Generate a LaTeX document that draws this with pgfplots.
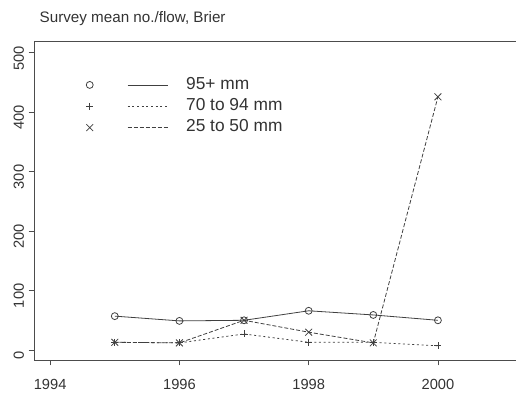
\documentclass[border=0pt]{standalone}
\usepackage{pgfplots}
\pgfplotsset{compat=1.18}
\usepackage{fontspec}
\setmainfont{Liberation Sans}
\usetikzlibrary{calc}
\begin{document}
\begin{tikzpicture}
\begin{axis}[
  scale only axis, width=364.5pt, height=239.25pt,
  xmin=1993.75, xmax=2001.27, ymin=-16.8, ymax=520,
  xtick={1994,1996,1998,2000}, ytick={0,100,200,300,400,500},
  tick align=outside, tick pos=left, major tick length=4pt,
  /pgf/number format/assume math mode=true,
  xticklabel style={/pgf/number format/1000 sep={}, yshift=-7pt},
  yticklabel style={rotate=90, anchor=south, xshift=-4pt},
  tick label style={font=\fontsize{11}{13}\selectfont, text=black!80},
  axis line style={black!70, line width=0.7pt}, tick style={black!70, line width=0.6pt},
  title={Survey mean no./flow, Brier},
  title style={at={(0,1)}, anchor=base west, yshift=8pt, xshift=0.75pt, font=\fontsize{11.4}{13}\selectfont, text=black!80},
  legend style={at={(rel axis cs:0,1)}, anchor=north west, xshift=36pt, yshift=-24pt,
    draw=none, fill=none, font=\fontsize{13}{15}\selectfont, text=black!80,
    nodes={text height=9.5pt, text depth=3pt, inner sep=0.5pt}, row sep=2.5pt,
    /tikz/every odd column/.append style={column sep=13pt}},
  legend cell align=left,
  legend image code/.code={
    \draw[#1] plot coordinates {(0pt,0pt)};
    \draw[#1, mark=none] (28.5pt,0pt) -- (58.5pt,0pt);
  },
  every axis plot/.append style={black!75, line width=0.6pt, mark size=2.6pt, mark options={solid}},
]
\addplot[mark=o] coordinates {(1995,57)(1996,49)(1997,50)(1998,66)(1999,59)(2000,50)};
\addlegendentry{95+ mm}
\addplot[mark=+, dash pattern=on 1.5pt off 2pt] coordinates {(1995,13)(1996,12)(1997,27)(1998,13)(1999,13)(2000,7)};
\addlegendentry{70 to 94 mm}
\addplot[mark=x, mark size=3.6pt, dash pattern=on 3pt off 1.5pt] coordinates {(1995,13)(1996,12)(1997,50)(1998,30)(1999,12)(2000,426)};
\addlegendentry{25 to 50 mm}
\coordinate (SW) at (rel axis cs:0,0);
\coordinate (NE) at (rel axis cs:1,1);
\end{axis}
\pgfresetboundingbox
\path[use as bounding box] ($(SW)+(-25.5pt,-27pt)$) rectangle ($(NE)+(-3pt,30.75pt)$);
\end{tikzpicture}
\end{document}
